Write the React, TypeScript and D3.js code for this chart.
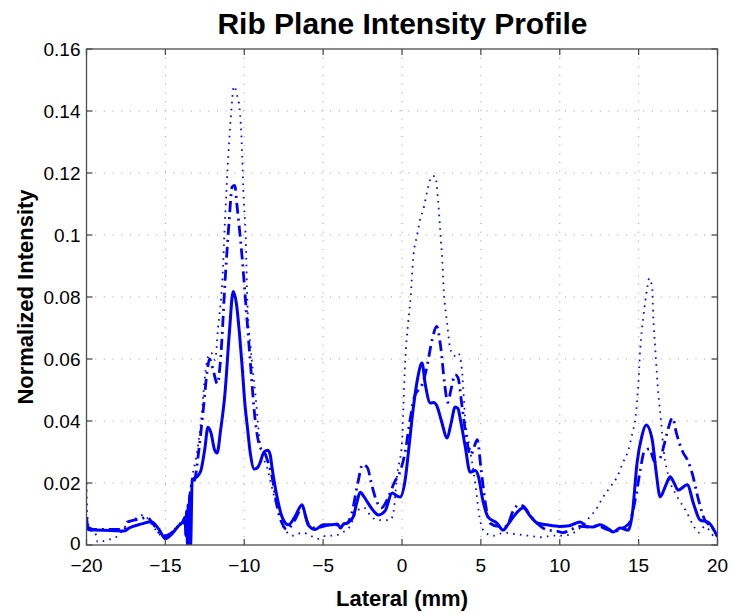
import React from "react";
import * as d3 from "d3";

const solidX = [-20, -19.9, -19.5, -18.5, -17.6, -17.3, -16.5, -15.9, -15.4, -15.0, -14.6, -14.2, -13.9, -13.75, -13.7, -13.65, -13.6, -13.55, -13.5, -13.45, -13.4, -13.3, -13.0, -12.75, -12.5, -12.3, -12.1, -11.9, -11.72, -11.5, -11.22, -10.95, -10.7, -10.5, -10.3, -10.14, -9.95, -9.8, -9.6, -9.38, -9.15, -9.0, -8.75, -8.5, -8.35, -8.24, -7.9, -7.6, -7.2, -6.8, -6.33, -6.1, -5.95, -5.5, -5.0, -4.5, -4.1, -3.9, -3.7, -3.5, -3.1, -2.85, -2.65, -2.4, -2.15, -1.8, -1.5, -1.07, -0.63, -0.3, -0.12, 0.2, 0.45, 0.7, 1.0, 1.27, 1.47, 1.8, 2.0, 2.2, 2.5, 2.86, 3.1, 3.37, 3.55, 3.68, 4.0, 4.32, 4.64, 4.85, 5.1, 5.46, 6.03, 6.41, 6.7, 7.05, 7.7, 8.1, 8.57, 9.2, 10.0, 10.6, 11.0, 11.3, 11.7, 12.1, 12.55, 13.0, 13.4, 13.84, 14.35, 14.6, 14.9, 15.2, 15.48, 15.86, 16.1, 16.37, 16.7, 17.0, 17.25, 17.5, 18.08, 18.5, 18.9, 19.4, 20];
const solidY = [0.009, 0.005, 0.0048, 0.0047, 0.0045, 0.0055, 0.0068, 0.0075, 0.005, 0.002, 0.0035, 0.006, 0.0075, 0.009, 0.003, 0.011, 0.0, 0.013, 0.001, 0.016, 0.0, 0.021, 0.022, 0.024, 0.031, 0.038, 0.036, 0.031, 0.0297, 0.037, 0.049, 0.068, 0.0818, 0.078, 0.068, 0.058, 0.045, 0.038, 0.029, 0.0245, 0.025, 0.0265, 0.03, 0.0306, 0.029, 0.025, 0.015, 0.009, 0.0065, 0.009, 0.013, 0.009, 0.0065, 0.005, 0.0065, 0.0065, 0.0068, 0.0055, 0.0068, 0.007, 0.009, 0.014, 0.017, 0.0155, 0.0135, 0.011, 0.0097, 0.011, 0.0168, 0.0158, 0.0155, 0.021, 0.032, 0.0435, 0.054, 0.0587, 0.052, 0.0458, 0.046, 0.045, 0.04, 0.0345, 0.039, 0.0445, 0.044, 0.041, 0.032, 0.0235, 0.024, 0.022, 0.015, 0.009, 0.007, 0.0048, 0.0065, 0.009, 0.012, 0.0095, 0.0071, 0.0065, 0.006, 0.0062, 0.007, 0.0074, 0.006, 0.0058, 0.0065, 0.0055, 0.0042, 0.0055, 0.0048, 0.01, 0.0265, 0.035, 0.0387, 0.034, 0.024, 0.0155, 0.019, 0.022, 0.02, 0.0177, 0.0194, 0.013, 0.008, 0.0074, 0.0026];

const dashX = [-20, -19.5, -18.5, -17.6, -17.4, -17.0, -16.5, -16.2, -15.8, -15.4, -15.0, -14.6, -14.2, -13.9, -13.6, -13.4, -13.1, -12.9, -12.6, -12.35, -12.2, -12.0, -11.7, -11.5, -11.2, -10.95, -10.77, -10.6, -10.47, -10.14, -9.95, -9.63, -9.3, -9.0, -8.7, -8.45, -8.24, -7.9, -7.6, -7.3, -6.8, -6.33, -5.95, -5.5, -5.0, -4.5, -4.0, -3.5, -3.2, -2.8, -2.5, -2.2, -1.9, -1.6, -1.3, -0.9, -0.5, -0.1, 0.2, 0.5, 0.8, 1.03, 1.3, 1.6, 1.9, 2.2, 2.45, 2.7, 2.9, 3.1, 3.37, 3.55, 3.8, 4.1, 4.35, 4.6, 4.77, 5.0, 5.3, 5.6, 6.1, 6.6, 7.05, 7.4, 7.7, 8.2, 8.8, 9.2, 9.8, 10.2, 10.66, 11.2, 11.8, 12.4, 13.0, 13.5, 14.0, 14.4, 14.8, 15.1, 15.35, 15.7, 16.0, 16.35, 16.6, 16.9, 17.15, 17.4, 17.8, 18.1, 18.4, 18.8, 19.2, 19.6, 20];
const dashY = [0.006, 0.005, 0.005, 0.005, 0.0074, 0.008, 0.0085, 0.009, 0.007, 0.004, 0.003, 0.004, 0.006, 0.007, 0.008, 0.018, 0.022, 0.0297, 0.0435, 0.056, 0.06, 0.057, 0.052, 0.06, 0.0865, 0.105, 0.1155, 0.116, 0.11, 0.093, 0.081, 0.06, 0.04, 0.0316, 0.0297, 0.026, 0.022, 0.012, 0.007, 0.005, 0.008, 0.012, 0.007, 0.0055, 0.006, 0.0065, 0.0065, 0.007, 0.01, 0.02, 0.026, 0.025, 0.019, 0.014, 0.012, 0.015, 0.02, 0.024, 0.03, 0.04, 0.048, 0.05, 0.052, 0.058, 0.066, 0.0705, 0.064, 0.052, 0.046, 0.05, 0.055, 0.054, 0.045, 0.034, 0.029, 0.032, 0.034, 0.025, 0.013, 0.007, 0.006, 0.006, 0.011, 0.013, 0.0125, 0.009, 0.006, 0.0048, 0.0045, 0.004, 0.0048, 0.006, 0.0058, 0.0062, 0.005, 0.0045, 0.0055, 0.007, 0.015, 0.024, 0.03, 0.031, 0.027, 0.028, 0.032, 0.038, 0.041, 0.036, 0.03, 0.0274, 0.023, 0.0145, 0.008, 0.006, 0.003];

const dotX = [-20, -19.95, -19.8, -19.45, -19.3, -18.7, -18.0, -17.37, -16.7, -16.4, -15.85, -15.5, -15.0, -14.6, -14.2, -13.75, -13.5, -13.3, -13.1, -12.9, -12.67, -12.5, -12.3, -12.1, -11.85, -11.66, -11.4, -11.2, -11.05, -10.85, -10.65, -10.45, -10.3, -10.14, -10.06, -9.9, -9.8, -9.6, -9.3, -9.0, -8.5, -8.05, -7.55, -6.9, -6.3, -5.8, -5.3, -4.8, -4.3, -3.8, -3.3, -2.85, -2.4, -2.0, -1.57, -1.1, -0.76, -0.56, -0.3, 0.0, 0.08, 0.2, 0.39, 0.55, 0.7, 0.96, 1.15, 1.34, 1.66, 1.9, 2.1, 2.29, 2.42, 2.55, 2.65, 2.86, 3.05, 3.3, 3.56, 3.8, 4.0, 4.32, 4.64, 4.95, 5.27, 5.8, 6.5, 7.2, 8.0, 8.8, 9.5, 10.2, 10.9, 11.4, 11.9, 12.37, 12.75, 13.2, 13.64, 14.0, 14.35, 14.6, 14.8, 14.98, 15.1, 15.3, 15.55, 15.67, 15.86, 15.93, 16.06, 16.2, 16.4, 16.6, 16.9, 17.4, 18.0, 18.5, 18.8, 19.2, 19.8, 20];
const dotY = [0.02, 0.01, 0.005, 0.004, 0.001, 0.0016, 0.003, 0.007, 0.009, 0.0097, 0.0065, 0.0042, 0.0023, 0.004, 0.0065, 0.009, 0.015, 0.022, 0.027, 0.033, 0.0435, 0.054, 0.0606, 0.062, 0.0597, 0.07, 0.0845, 0.107, 0.122, 0.138, 0.148, 0.145, 0.141, 0.127, 0.1145, 0.098, 0.078, 0.064, 0.049, 0.033, 0.024, 0.0145, 0.006, 0.003, 0.004, 0.003, 0.002, 0.003, 0.003, 0.004, 0.006, 0.011, 0.012, 0.0095, 0.008, 0.008, 0.008, 0.01, 0.023, 0.033, 0.0435, 0.059, 0.0716, 0.08, 0.092, 0.1, 0.105, 0.108, 0.1155, 0.119, 0.119, 0.111, 0.1016, 0.092, 0.082, 0.0716, 0.0635, 0.061, 0.062, 0.0565, 0.041, 0.0306, 0.02, 0.008, 0.004, 0.003, 0.004, 0.0035, 0.003, 0.0025, 0.003, 0.003, 0.004, 0.006, 0.009, 0.012, 0.0155, 0.0187, 0.022, 0.0265, 0.0306, 0.036, 0.041, 0.052, 0.063, 0.0735, 0.083, 0.086, 0.083, 0.0735, 0.063, 0.052, 0.041, 0.03, 0.022, 0.016, 0.011, 0.006, 0.004, 0.006, 0.0026, 0.002];

const xTicks = [-20, -15, -10, -5, 0, 5, 10, 15, 20];
const yTicks = [0, 0.02, 0.04, 0.06, 0.08, 0.1, 0.12, 0.14, 0.16];

const W = 733, H = 614;
const M = { left: 86.5, right: 717.5, top: 49, bottom: 545 };
const FONT = "'Liberation Sans', Arial, Helvetica, sans-serif";

export default function App() {
  const x = d3.scaleLinear().domain([-20, 20]).range([M.left, M.right]);
  const y = d3.scaleLinear().domain([0, 0.16]).range([M.bottom, M.top]);
  const line = d3.line<[number, number]>()
    .x((d) => x(d[0]))
    .y((d) => y(d[1]))
    .curve(d3.curveMonotoneX);
  const zip = (a: number[], b: number[]) => a.map((v, i) => [v, b[i]] as [number, number]);
  const fmtX = (v: number) => (v < 0 ? "\u2212" + Math.abs(v) : String(v));
  const fmtY = (v: number) => String(+v.toFixed(2));
  const tickLen = 6;
  const blue = "#0000ff";
  const axisCol = "#4d4d4d";
  return (
    <svg width={W} height={H} style={{ position: "absolute", left: 0, top: 0, background: "#fff" }} fontFamily={FONT}>
      <rect x={0} y={0} width={W} height={H} fill="#fff" />
      <defs>
        <clipPath id="plotclip">
          <rect x={M.left} y={M.top} width={M.right - M.left} height={M.bottom - M.top} />
        </clipPath>
      </defs>
      {xTicks.slice(1, -1).map((t) => (
        <line key={"gx" + t} x1={x(t)} x2={x(t)} y1={M.top} y2={M.bottom} stroke="#9a9a9a" strokeWidth={1} strokeDasharray="1,7.7" />
      ))}
      {yTicks.slice(1, -1).map((t) => (
        <line key={"gy" + t} x1={M.left} x2={M.right} y1={y(t)} y2={y(t)} stroke="#9a9a9a" strokeWidth={1} strokeDasharray="1,7.7" />
      ))}
      <g clipPath="url(#plotclip)" fill="none" stroke={blue} strokeLinejoin="round">
        <path d={line(zip(dotX, dotY)) || ""} strokeWidth={1.8} strokeDasharray="1.6,5.2" strokeLinecap="butt" />
        <path d={line(zip(dashX, dashY)) || ""} strokeWidth={2.8} strokeDasharray="11,5,2,5" />
        <path d={line(zip(solidX, solidY)) || ""} strokeWidth={3} />
      </g>
      <rect x={M.left} y={M.top} width={M.right - M.left} height={M.bottom - M.top} fill="none" stroke={axisCol} strokeWidth={1.3} />
      {xTicks.map((t) => (
        <g key={"tx" + t}>
          <line x1={x(t)} x2={x(t)} y1={M.bottom} y2={M.bottom - tickLen} stroke={axisCol} strokeWidth={1.3} />
          <line x1={x(t)} x2={x(t)} y1={M.top} y2={M.top + tickLen} stroke={axisCol} strokeWidth={1.3} />
          <text x={x(t)} y={M.bottom + 27} textAnchor="middle" fontSize={19} fill="#000">{fmtX(t)}</text>
        </g>
      ))}
      {yTicks.map((t) => (
        <g key={"ty" + t}>
          <line x1={M.left} x2={M.left + tickLen} y1={y(t)} y2={y(t)} stroke={axisCol} strokeWidth={1.3} />
          <line x1={M.right} x2={M.right - tickLen} y1={y(t)} y2={y(t)} stroke={axisCol} strokeWidth={1.3} />
          <text x={M.left - 6} y={t === 0 ? y(t) - 2 : y(t)} dy="0.35em" textAnchor="end" fontSize={19} fill="#000">{fmtY(t)}</text>
        </g>
      ))}
      <text x={(M.left + M.right) / 2 + 0.5} y={34} textAnchor="middle" fontSize={30} fontWeight="bold" fill="#000">Rib Plane Intensity Profile</text>
      <text x={(M.left + M.right) / 2} y={606} textAnchor="middle" fontSize={22} fontWeight="bold" fill="#000">Lateral (mm)</text>
      <text transform={`translate(33,${(M.top + M.bottom) / 2}) rotate(-90)`} textAnchor="middle" fontSize={22} fontWeight="bold" fill="#000">Normalized Intensity</text>
    </svg>
  );
}
